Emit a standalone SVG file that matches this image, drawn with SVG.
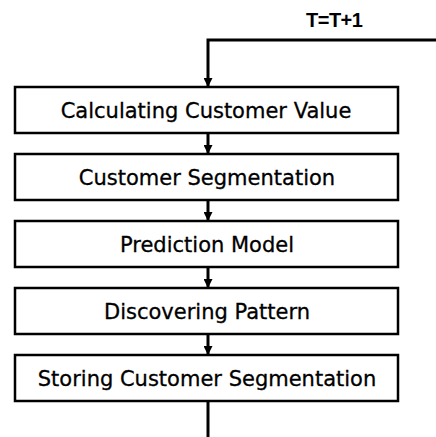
<svg xmlns="http://www.w3.org/2000/svg" width="436" height="437" viewBox="0 0 436 437">
<style>
.box{fill:#fff;stroke:#000;stroke-width:2.5}
.lbl{font-family:"DejaVu Sans",sans-serif;font-size:21px;fill:#000;stroke:#000;stroke-width:0.3;text-anchor:middle}
.ln{fill:none;stroke:#000;stroke-width:3}
.t{font-family:"Liberation Sans",Arial,sans-serif;font-size:20px;font-weight:bold;fill:#000;letter-spacing:-0.5px}
</style>
<defs>
<marker id="ah" viewBox="0 0 10 10" refX="10" refY="5" markerWidth="9" markerHeight="9" markerUnits="userSpaceOnUse" orient="auto">
<path d="M0,0 L10,5 L0,10 z" fill="#000"/>
</marker>
</defs>
<rect width="436" height="437" fill="#fff"/>
<g id="connectors">
<polyline class="ln" points="436,40 208,40 208,87" marker-end="url(#ah)"/>
<line class="ln" x1="208" y1="133" x2="208" y2="154" marker-end="url(#ah)"/>
<line class="ln" x1="208" y1="200" x2="208" y2="221" marker-end="url(#ah)"/>
<line class="ln" x1="208" y1="267" x2="208" y2="288" marker-end="url(#ah)"/>
<line class="ln" x1="208" y1="334" x2="208" y2="355" marker-end="url(#ah)"/>
<line class="ln" x1="208" y1="401" x2="208" y2="437"/>
<text class="t" x="306" y="27">T=T+1</text>
</g>
<g id="n1"><rect class="box" x="15" y="87" width="383" height="46"/><text class="lbl" x="206" y="118">Calculating Customer Value</text></g>
<g id="n2"><rect class="box" x="15" y="154" width="383" height="46"/><text class="lbl" x="207" y="185">Customer Segmentation</text></g>
<g id="n3"><rect class="box" x="15" y="221" width="383" height="46"/><text class="lbl" x="207" y="252">Prediction Model</text></g>
<g id="n4"><rect class="box" x="15" y="288" width="383" height="46"/><text class="lbl" x="207" y="319">Discovering Pattern</text></g>
<g id="n5"><rect class="box" x="15" y="355" width="383" height="46"/><text class="lbl" x="207" y="386">Storing Customer Segmentation</text></g>
</svg>
